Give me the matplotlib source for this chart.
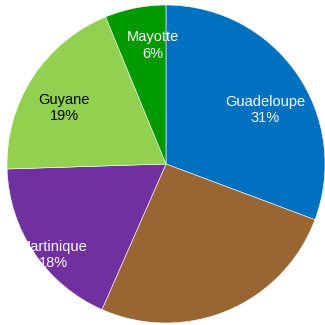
import numpy as np
import matplotlib
import matplotlib.pyplot as plt

matplotlib.use("Agg")
plt.rcParams["font.family"] = ["Liberation Sans", "DejaVu Sans"]

# slices, clockwise from 12 o'clock
names = ["Guadeloupe", "", "Martinique", "Guyane", "Mayotte"]
shares = [30.7, 25.9, 17.9, 19.3, 6.2]
pct_labels = ["31%", "", "18%", "19%", "6%"]
colors = ["#0070C0", "#996633", "#7030A0", "#92D050", "#009900"]
text_colors = ["white", "white", "white", "black", "white"]
label_r = [0.71, 0.0, 0.91, 0.73, 0.75]
label_shift = [-6, 0, 5, 4, -5]  # degrees away from the wedge middle

fig = plt.figure(figsize=(3.25, 3.25), dpi=100)
ax = fig.add_axes([7 / 325, 2 / 325, 318 / 325, 318 / 325])

wedges, _ = ax.pie(
    shares,
    colors=colors,
    startangle=90,
    counterclock=False,
    radius=1.0,
    wedgeprops=dict(edgecolor="white", linewidth=0.4),
)
ax.set_xlim(-1, 1)
ax.set_ylim(-1, 1)
ax.set_aspect("equal")
ax.axis("off")

for w, name, pct, tc, r, d in zip(wedges, names, pct_labels, text_colors,
                                  label_r, label_shift):
    if not name:
        continue
    mid = np.deg2rad(0.5 * (w.theta1 + w.theta2) + d)
    ax.text(r * np.cos(mid), r * np.sin(mid), f"{name}\n{pct}",
            ha="center", va="center", color=tc, fontsize=10.5,
            linespacing=1.2)

fig.savefig("out.png", dpi=100)
